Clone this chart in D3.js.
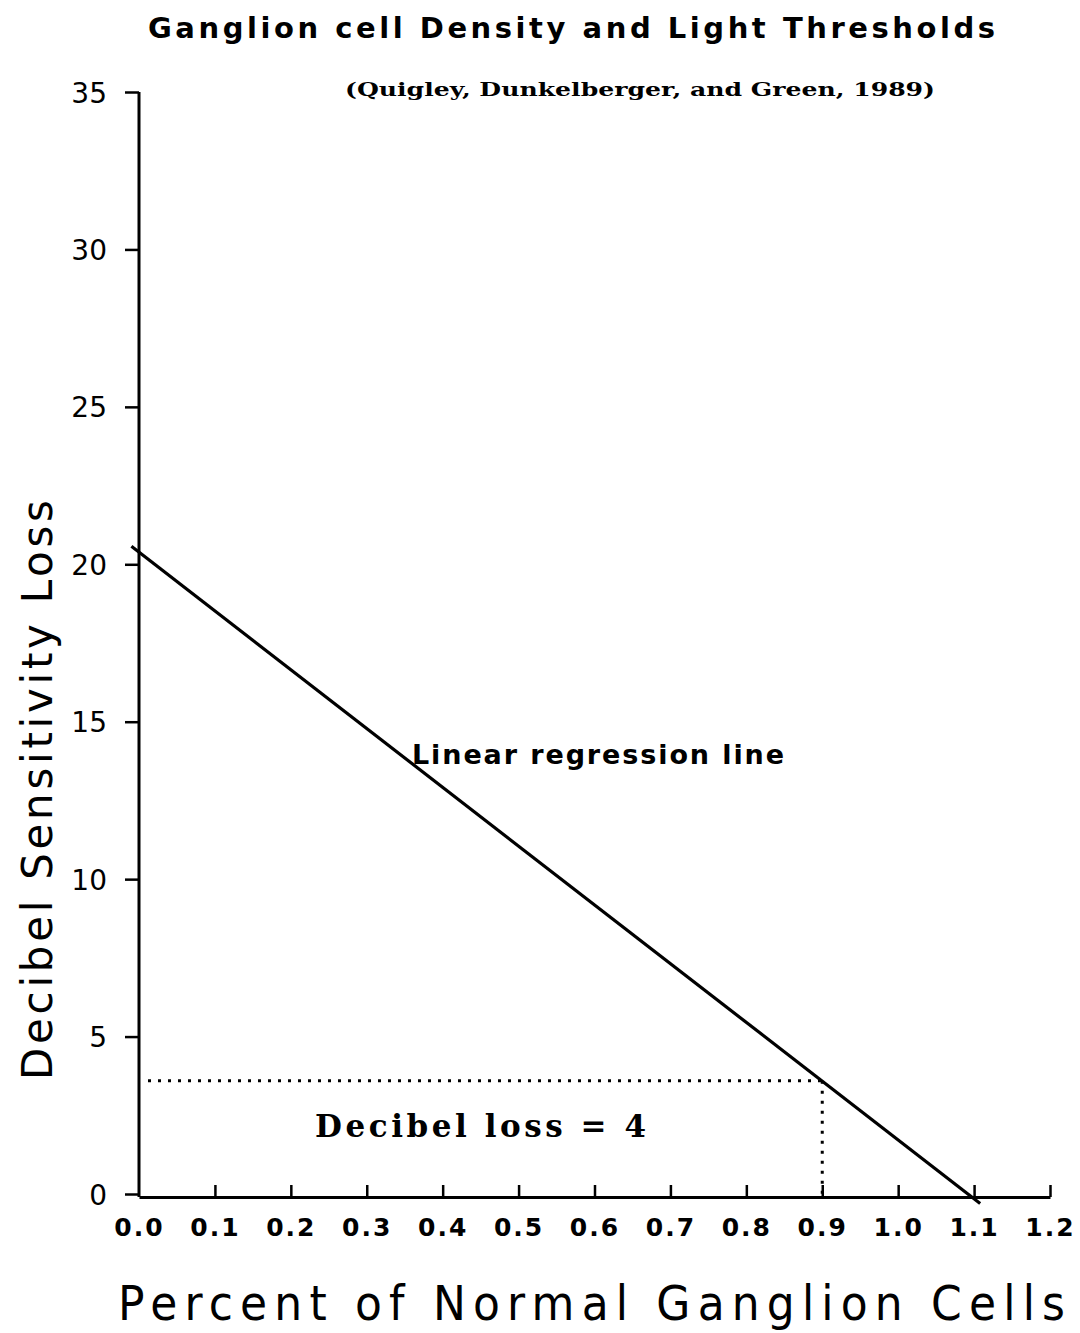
<!DOCTYPE html>
<html>
<head>
<meta charset="utf-8">
<script src="https://cdn.jsdelivr.net/npm/d3@7"></script>
<style>
  html, body { margin: 0; padding: 0; background: #fff; }
  svg { display: block; }
  text { fill: #000; }
</style>
</head>
<body>
<script>
// Axis ticks
const xTicks = [0.0, 0.1, 0.2, 0.3, 0.4, 0.5, 0.6, 0.7, 0.8, 0.9, 1.0, 1.1, 1.2];
const yTicks = [0, 5, 10, 15, 20, 25, 30, 35];

// Fitted regression line (endpoints as drawn)
const regressionX = [-0.01, 1.108];
const regressionY = [20.57, -0.3];

// Reference point: 0.9 of normal ganglion cells
const refCells = 0.9;
const refLoss = 3.6;

const W = 1080, H = 1333;
const svg = d3.select("body").append("svg").attr("width", W).attr("height", H);

const x = d3.scaleLinear().domain([0, 1.2]).range([139, 1050]);
const y = d3.scaleLinear().domain([0, 35]).range([1194, 92]);

const sans = "'DejaVu Sans', 'Liberation Sans', sans-serif";
const slab = "'DejaVu Serif', 'Liberation Serif', serif";

// Title and source
svg.append("text")
  .attr("x", 148).attr("y", 38)
  .attr("textLength", 847).attr("lengthAdjust", "spacing")
  .style("font-family", sans).style("font-size", "29px").style("font-weight", "bold")
  .text("Ganglion cell Density and Light Thresholds");

svg.append("text")
  .attr("x", 345).attr("y", 96)
  .attr("textLength", 590).attr("lengthAdjust", "spacingAndGlyphs")
  .style("font-family", slab).style("font-size", "19px").style("font-weight", "bold")
  .text("(Quigley, Dunkelberger, and Green, 1989)");

// Y axis
const yAxis = svg.append("g")
  .attr("transform", `translate(${x(0)},0)`)
  .call(d3.axisLeft(y).tickValues(yTicks).tickSize(14).tickSizeOuter(0).tickPadding(18)
    .tickFormat(d3.format("d")));
yAxis.select(".domain").attr("stroke", "#000").attr("stroke-width", 3)
  .attr("d", `M0,${y(35)}V${y(0) + 3}`);
yAxis.selectAll(".tick line").attr("stroke", "#000").attr("stroke-width", 2.5);
yAxis.selectAll(".tick text")
  .style("font-family", sans).style("font-size", "28px")
  .attr("dy", "0.36em");

// X axis
const xAxis = svg.append("g")
  .attr("transform", `translate(0,${y(0) + 3})`)
  .call(d3.axisBottom(x).tickValues(xTicks).tickSize(-12).tickSizeOuter(0).tickPadding(21)
    .tickFormat(d3.format(".1f")));
xAxis.select(".domain").attr("stroke", "#000").attr("stroke-width", 3);
xAxis.selectAll(".tick line").attr("stroke", "#000").attr("stroke-width", 2.5)
  .filter(d => d === 0).remove();
xAxis.selectAll(".tick text")
  .style("font-family", sans).style("font-size", "25px").style("font-weight", "bold")
  .style("letter-spacing", "2px")
  .attr("dy", "0.71em");

// Axis titles
svg.append("text")
  .attr("transform", `translate(52,1080) rotate(-90)`)
  .attr("textLength", 580).attr("lengthAdjust", "spacing")
  .style("font-family", sans).style("font-size", "42px")
  .text("Decibel Sensitivity Loss");

svg.append("text")
  .attr("transform", "translate(118,1320) scale(1,1.1)")
  .attr("textLength", 947).attr("lengthAdjust", "spacing")
  .style("font-family", sans).style("font-size", "44px")
  .text("Percent of Normal Ganglion Cells");

// Dotted reference lines
const dotted = { stroke: "#000", "stroke-width": 3, "stroke-dasharray": "3 7" };
const hLine = svg.append("line")
  .attr("x1", x(0) + 9).attr("x2", x(refCells))
  .attr("y1", y(refLoss)).attr("y2", y(refLoss));
const vLine = svg.append("line")
  .attr("x1", x(refCells)).attr("x2", x(refCells))
  .attr("y1", y(refLoss)).attr("y2", y(0));
[hLine, vLine].forEach(l => Object.entries(dotted).forEach(([k, v]) => l.attr(k, v)));

// Regression line
const lineGen = d3.line().x(d => x(d[0])).y(d => y(d[1]));
svg.append("path")
  .datum(d3.zip(regressionX, regressionY))
  .attr("d", lineGen)
  .attr("fill", "none").attr("stroke", "#000").attr("stroke-width", 3.2);

// Annotations
svg.append("text")
  .attr("x", 412).attr("y", 764)
  .attr("textLength", 372).attr("lengthAdjust", "spacing")
  .style("font-family", sans).style("font-size", "27px").style("font-weight", "bold")
  .text("Linear regression line");

svg.append("text")
  .attr("x", 315).attr("y", 1137)
  .attr("textLength", 331).attr("lengthAdjust", "spacing")
  .style("font-family", slab).style("font-size", "31px").style("font-weight", "bold")
  .text(`Decibel loss = ${Math.round(refLoss)}`);
</script>
</body>
</html>
